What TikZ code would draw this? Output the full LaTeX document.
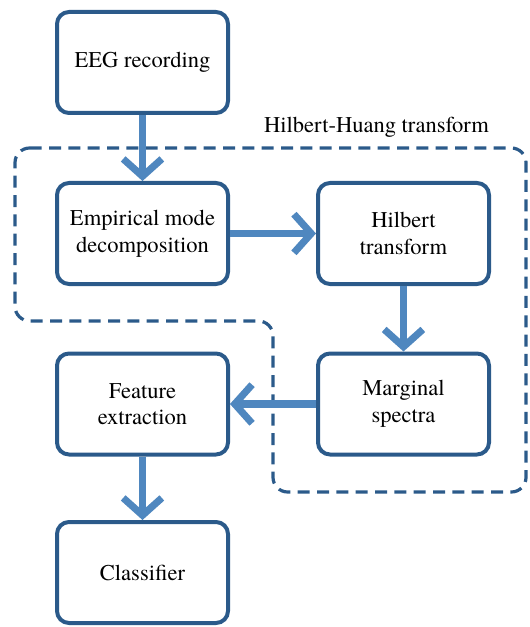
\documentclass[tikz,border=0pt]{standalone}
\usepackage{fontspec}
\newfontfamily\timesfont{texgyretermes}[Extension=.otf, UprightFont=*-regular, BoldFont=*-bold]
\usetikzlibrary{arrows.meta}
\definecolor{boxblue}{HTML}{2B5A8A}
\definecolor{arrowblue}{HTML}{4F87BF}
\tikzset{
  procbox/.style={draw=boxblue, line width=3pt, rounded corners=9pt, fill=white,
    minimum width=128.25pt, minimum height=75.75pt, align=center,
    font=\timesfont\fontsize{16.9}{20}\selectfont, text=black},
  flowarrow/.style={draw=arrowblue, line width=5.3pt,
    -{Straight Barb[length=13pt,width=29pt]}},
  hhtframe/.style={draw=boxblue, line width=2.4pt, dash pattern=on 9pt off 5.5pt, rounded corners=11pt}
}
\begin{document}
\begin{tikzpicture}[x=0.75pt,y=-0.75pt]
\useasboundingbox (0,0) rectangle (530,627);
\draw[hhtframe] (15,148) -- (526,148) -- (526,492) -- (273,492) -- (273,321) -- (15,321) -- cycle;
\node[anchor=base, font=\timesfont\fontsize{16.9}{20}\selectfont] (hhtlabel) at (376.5,133) {Hilbert-Huang transform};
\node[procbox] (eeg) at (142.5,62.5) {EEG recording};
\node[procbox] (emd) at (142.5,233.5) {Empirical mode\\decomposition};
\node[procbox] (hil) at (403.5,233.5) {Hilbert\\transform};
\node[procbox] (mar) at (403.5,404) {Marginal\\spectra};
\node[procbox] (fea) at (142.5,404) {Feature\\extraction};
\node[procbox] (cla) at (142.5,572.5) {Classifier};
\draw[flowarrow] (eeg.south) -- (emd.north);
\draw[flowarrow] (emd.east) -- (hil.west);
\draw[flowarrow] (hil.south) -- (mar.north);
\draw[flowarrow] (mar.west) -- (fea.east);
\draw[flowarrow] (fea.south) -- (cla.north);
\end{tikzpicture}
\end{document}
